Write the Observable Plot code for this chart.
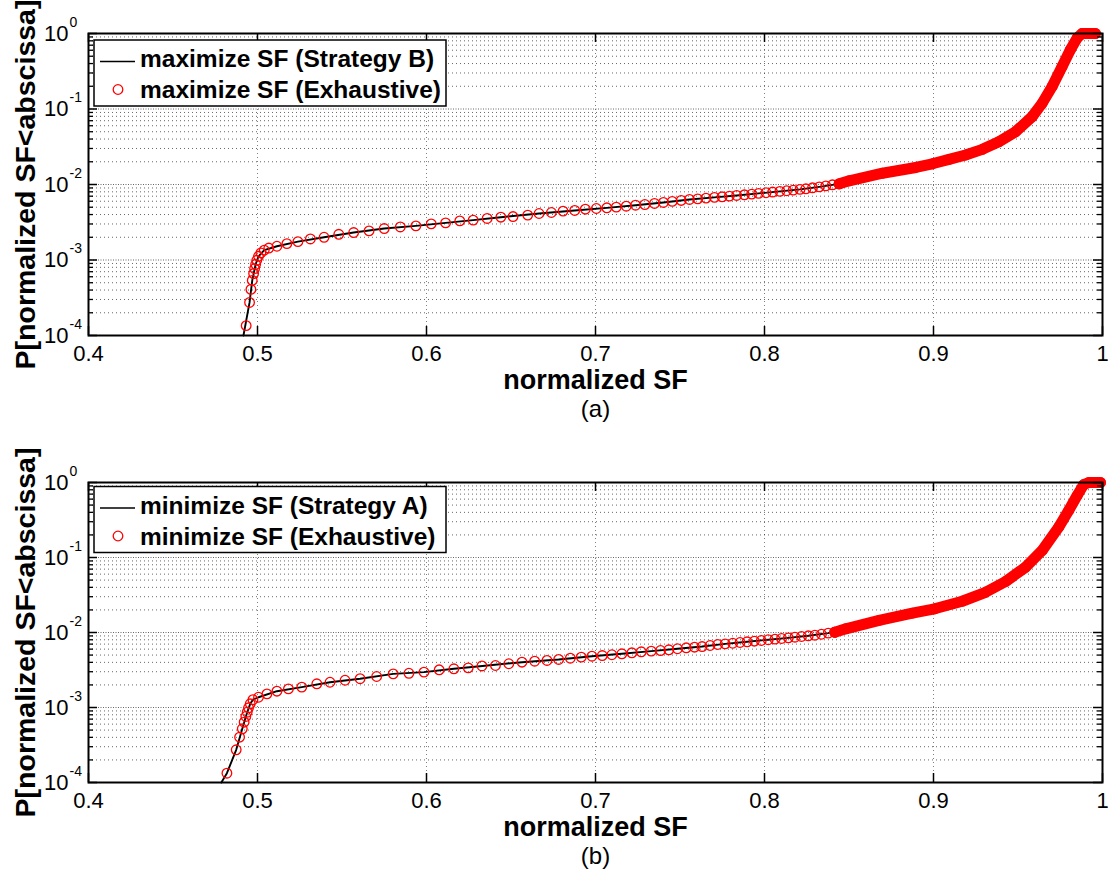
<!DOCTYPE html>
<html><head><meta charset="utf-8">
<script src="https://cdn.jsdelivr.net/npm/d3@7"></script>
<script src="https://cdn.jsdelivr.net/npm/@observablehq/plot@0.6"></script>
<style>
body{margin:0;background:#fff;}
#chart{width:1120px;height:879px;position:relative;}
#chart svg{display:block;}
</style>
</head><body><div id="chart"></div>
<script>
// ---------- axis ticks / labels ----------
const xTicks = [0.4, 0.5, 0.6, 0.7, 0.8, 0.9, 1];
const xTickLabels = ["0.4", "0.5", "0.6", "0.7", "0.8", "0.9", "1"];
const xGrid = [0.5, 0.6, 0.7, 0.8, 0.9];
const yDecades = [1e-4, 1e-3, 1e-2, 1e-1, 1];
const yExponents = ["-4", "-3", "-2", "-1", "0"];
const xLabel = "normalized SF";
const yLabel = "P[normalized SF<abscissa]";

// ---------- panel (a) ----------
const aTitle = "(a)";
const aLegend = ["maximize SF (Strategy B)", "maximize SF (Exhaustive)"];
const aLineX = [0.4917, 0.4953, 0.4969, 0.4989, 0.5006, 0.5040, 0.5115, 0.5239, 0.5394, 0.5569, 0.5750, 0.5937, 0.6113, 0.6276, 0.6440, 0.6666, 0.6877, 0.7067, 0.7237, 0.7402, 0.7556, 0.7704, 0.7835, 0.7965, 0.8091, 0.8210, 0.8324, 0.8442, 0.8698, 0.8993, 0.9289, 0.9486, 0.9643, 0.9761, 0.9850, 0.9879];
const aLineP = [1.00e-4, 2.74e-4, 5.37e-4, 8.77e-4, 1.12e-3, 1.35e-3, 1.52e-3, 1.75e-3, 2.00e-3, 2.31e-3, 2.61e-3, 2.83e-3, 3.10e-3, 3.37e-3, 3.69e-3, 4.13e-3, 4.53e-3, 4.91e-3, 5.32e-3, 5.78e-3, 6.34e-3, 6.75e-3, 7.16e-3, 7.62e-3, 8.11e-3, 8.61e-3, 9.31e-3, 1.02e-2, 1.41e-2, 1.88e-2, 2.92e-2, 5.01e-2, 0.119, 0.366, 0.871, 1];
const aExhX = [0.4933, 0.4953, 0.4961, 0.4969, 0.4977, 0.4983, 0.4989, 0.4996, 0.5006, 0.5020, 0.5040, 0.5067, 0.5115, 0.5174, 0.5239, 0.5313, 0.5394, 0.5481, 0.5569, 0.5660, 0.5750, 0.5845, 0.5937, 0.6028, 0.6113, 0.6197, 0.6276, 0.6359, 0.6440, 0.6512, 0.6599, 0.6666, 0.6739, 0.6808, 0.6877, 0.6940, 0.7005, 0.7067, 0.7123, 0.7182, 0.7237, 0.7292, 0.7349, 0.7402, 0.7454, 0.7507, 0.7556, 0.7605, 0.7654, 0.7704, 0.7749, 0.7792, 0.7835, 0.7881, 0.7924, 0.7965, 0.8009, 0.8048, 0.8091, 0.8131, 0.8170, 0.8210, 0.8245, 0.8284, 0.8324, 0.8363, 0.8402, 0.8442];
const aExhP = [1.35e-4, 2.74e-4, 4.08e-4, 5.37e-4, 6.61e-4, 7.69e-4, 8.77e-4, 9.91e-4, 1.12e-3, 1.24e-3, 1.35e-3, 1.44e-3, 1.52e-3, 1.65e-3, 1.75e-3, 1.90e-3, 2.00e-3, 2.19e-3, 2.31e-3, 2.43e-3, 2.61e-3, 2.74e-3, 2.83e-3, 3.01e-3, 3.10e-3, 3.30e-3, 3.37e-3, 3.55e-3, 3.69e-3, 3.76e-3, 3.93e-3, 4.13e-3, 4.26e-3, 4.44e-3, 4.53e-3, 4.71e-3, 4.81e-3, 4.91e-3, 5.01e-3, 5.16e-3, 5.32e-3, 5.43e-3, 5.61e-3, 5.78e-3, 5.97e-3, 6.15e-3, 6.34e-3, 6.46e-3, 6.59e-3, 6.75e-3, 6.87e-3, 7.02e-3, 7.16e-3, 7.30e-3, 7.46e-3, 7.62e-3, 7.78e-3, 7.94e-3, 8.11e-3, 8.26e-3, 8.43e-3, 8.61e-3, 8.77e-3, 9.04e-3, 9.31e-3, 9.59e-3, 9.91e-3, 1.02e-2];
// dense part of the exhaustive markers (overlapping into a solid band)
const aBandX = [0.8442, 0.8501, 0.8698, 0.8895, 0.8993, 0.9092, 0.9190, 0.9289, 0.9387, 0.9486, 0.9584, 0.9643, 0.9702, 0.9761, 0.9810, 0.9850, 0.9879, 0.9958];
const aBandP = [1.02e-2, 1.12e-2, 1.41e-2, 1.68e-2, 1.88e-2, 2.15e-2, 2.46e-2, 2.92e-2, 3.69e-2, 5.01e-2, 7.93e-2, 0.119, 0.199, 0.366, 0.610, 0.871, 1, 1];

// ---------- panel (b) ----------
const bTitle = "(b)";
const bLegend = ["minimize SF (Strategy A)", "minimize SF (Exhaustive)"];
const bLineX = [0.4786, 0.4819, 0.4874, 0.4910, 0.4939, 0.4957, 0.4973, 0.5006, 0.5115, 0.5262, 0.5429, 0.5607, 0.5803, 0.5985, 0.6162, 0.6331, 0.6565, 0.6782, 0.6979, 0.7156, 0.7330, 0.7485, 0.7631, 0.7767, 0.7897, 0.8022, 0.8141, 0.8259, 0.8377, 0.8481, 0.8678, 0.9007, 0.9308, 0.9545, 0.9741, 0.9889, 0.9919];
const bLineP = [1.00e-4, 1.33e-4, 2.73e-4, 5.20e-4, 8.65e-4, 1.12e-3, 1.27e-3, 1.37e-3, 1.65e-3, 1.87e-3, 2.17e-3, 2.42e-3, 2.81e-3, 2.96e-3, 3.28e-3, 3.58e-3, 4.02e-3, 4.37e-3, 4.83e-3, 5.20e-3, 5.64e-3, 6.07e-3, 6.50e-3, 7.06e-3, 7.52e-3, 8.00e-3, 8.49e-3, 9.04e-3, 9.80e-3, 1.12e-2, 1.45e-2, 2.07e-2, 3.44e-2, 7.43e-2, 0.254, 0.940, 1];
const bExhX = [0.4819, 0.4874, 0.4894, 0.4910, 0.4921, 0.4931, 0.4939, 0.4947, 0.4957, 0.4973, 0.5006, 0.5056, 0.5115, 0.5183, 0.5262, 0.5351, 0.5429, 0.5518, 0.5607, 0.5705, 0.5803, 0.5896, 0.5985, 0.6075, 0.6162, 0.6247, 0.6328, 0.6408, 0.6487, 0.6565, 0.6640, 0.6713, 0.6782, 0.6851, 0.6916, 0.6979, 0.7040, 0.7097, 0.7156, 0.7215, 0.7271, 0.7330, 0.7385, 0.7434, 0.7485, 0.7537, 0.7586, 0.7631, 0.7678, 0.7723, 0.7767, 0.7812, 0.7855, 0.7897, 0.7940, 0.7981, 0.8022, 0.8062, 0.8101, 0.8141, 0.8180, 0.8219, 0.8259, 0.8298, 0.8337, 0.8377, 0.8416];
const bExhP = [1.33e-4, 2.73e-4, 4.02e-4, 5.20e-4, 6.37e-4, 7.59e-4, 8.65e-4, 9.91e-4, 1.12e-3, 1.27e-3, 1.37e-3, 1.52e-3, 1.65e-3, 1.77e-3, 1.87e-3, 2.07e-3, 2.17e-3, 2.31e-3, 2.42e-3, 2.59e-3, 2.81e-3, 2.86e-3, 2.96e-3, 3.18e-3, 3.28e-3, 3.38e-3, 3.58e-3, 3.63e-3, 3.83e-3, 4.02e-3, 4.14e-3, 4.24e-3, 4.37e-3, 4.54e-3, 4.69e-3, 4.83e-3, 4.93e-3, 5.05e-3, 5.20e-3, 5.36e-3, 5.53e-3, 5.64e-3, 5.75e-3, 5.88e-3, 6.07e-3, 6.25e-3, 6.37e-3, 6.50e-3, 6.71e-3, 6.92e-3, 7.06e-3, 7.19e-3, 7.36e-3, 7.52e-3, 7.66e-3, 7.82e-3, 8.00e-3, 8.15e-3, 8.32e-3, 8.49e-3, 8.65e-3, 8.85e-3, 9.04e-3, 9.20e-3, 9.48e-3, 9.80e-3, 1.01e-2];
const bBandX = [0.8416, 0.8481, 0.8678, 0.8875, 0.9007, 0.9170, 0.9308, 0.9427, 0.9545, 0.9643, 0.9741, 0.9800, 0.9850, 0.9889, 0.9919, 0.9988];
const bBandP = [1.01e-2, 1.12e-2, 1.45e-2, 1.81e-2, 2.07e-2, 2.61e-2, 3.44e-2, 4.79e-2, 7.43e-2, 0.124, 0.254, 0.424, 0.671, 0.940, 1, 1];

// ---------- drawing ----------
const FONT = "'Liberation Sans', Arial, Helvetica, sans-serif";
const RED = "#ff0000";
const zip = (X, Y) => X.map((x, i) => ({x, y: Y[i]}));

// log minor tick positions (scale ticks, not data)
const yMinor = [];
for (let i = 0; i < yDecades.length - 1; i++) {
  for (let m = 2; m <= 9; m++) yMinor.push(yDecades[i] * m);
}

function panel({height, marginTop, marginBottom, lineX, lineP, exhX, exhP, bandX, bandP, title, legend, legendTop}) {
  const width = 1120, marginLeft = 88, marginRight = 18;
  const W = width - marginLeft - marginRight;
  const H = height - marginTop - marginBottom;
  const line = zip(lineX, lineP), exh = zip(exhX, exhP), band = zip(bandX, bandP);
  const svg = Plot.plot({
    width, height, marginLeft, marginRight, marginTop, marginBottom,
    style: {fontFamily: FONT, fontSize: "22px", color: "#000", background: "#fff", overflow: "visible"},
    x: {domain: [0.4, 1], axis: null},
    y: {type: "log", domain: [1e-4, 1], axis: null},
    marks: [
      // dotted grid
      Plot.ruleY(yMinor, {y: d => d, stroke: "#000", strokeOpacity: 0.6, strokeWidth: 1, strokeDasharray: "1,3"}),
      Plot.ruleY(yDecades, {y: d => d, stroke: "#000", strokeOpacity: 0.6, strokeWidth: 1, strokeDasharray: "1,1.5"}),
      Plot.ruleX(xGrid, {x: d => d, stroke: "#000", strokeOpacity: 0.5, strokeWidth: 1, strokeDasharray: "1,3"}),
      // data
      Plot.line(line, {x: "x", y: "y", stroke: "#000", strokeWidth: 1.9}),
      Plot.dot(exh, {x: "x", y: "y", r: 4.8, stroke: RED, strokeWidth: 1.3, fill: "none"}),
      Plot.dot(band, {x: "x", y: "y", r: 4.8, stroke: RED, strokeWidth: 1.3, fill: "none"}),
      Plot.line(band, {x: "x", y: "y", stroke: RED, strokeWidth: 11, strokeLinecap: "round", strokeLinejoin: "round"}),
      // inward ticks (box on all sides)
      Plot.tickX(xTicks, {x: d => d, insetTop: H - 9, stroke: "#000", strokeWidth: 1.5}),
      Plot.tickX(xTicks, {x: d => d, insetBottom: H - 9, stroke: "#000", strokeWidth: 1.5}),
      Plot.tickY(yDecades, {y: d => d, insetRight: W - 9, stroke: "#000", strokeWidth: 1.5}),
      Plot.tickY(yDecades, {y: d => d, insetLeft: W - 9, stroke: "#000", strokeWidth: 1.5}),
      Plot.tickY(yMinor, {y: d => d, insetRight: W - 5, stroke: "#000", strokeWidth: 1.3}),
      Plot.tickY(yMinor, {y: d => d, insetLeft: W - 5, stroke: "#000", strokeWidth: 1.3}),
      Plot.frame({stroke: "#000", strokeWidth: 2}),
      // tick labels
      Plot.axisX(xTicks, {tickSize: 0, tickPadding: 10, fontSize: 22, label: null,
        tickFormat: d => xTickLabels[xTicks.indexOf(d)]}),
      Plot.axisY(yDecades, {tickSize: 0, tickPadding: 20, fontSize: 22, label: null, tickFormat: () => "10"}),
      Plot.text(yDecades, {y: d => d, text: (d, i) => yExponents[i], frameAnchor: "left",
        textAnchor: "start", dx: -19, dy: -11, fontSize: 14}),
      // axis titles and panel caption
      Plot.text([xLabel], {text: d => d, frameAnchor: "bottom", textAnchor: "middle", dy: 53, lineAnchor: "bottom",
        fontSize: 27, fontWeight: "bold"}),
      Plot.text([title], {text: d => d, frameAnchor: "bottom", textAnchor: "middle", dy: 81, lineAnchor: "bottom", fontSize: 24}),
      Plot.text([yLabel], {text: d => d, frameAnchor: "left", textAnchor: "middle", rotate: -90, dx: -54, lineAnchor: "bottom",
        fontSize: 28.5, fontWeight: "bold"})
    ]
  });

  // legend box (top-left, inside the axes)
  const g = d3.select(svg).append("g").attr("font-family", FONT).attr("text-anchor", "start");
  const lx = 94, ly = legendTop, lw = 352, lh = 66;
  g.append("rect").attr("x", lx).attr("y", ly).attr("width", lw).attr("height", lh)
    .attr("fill", "#fff").attr("stroke", "#000").attr("stroke-width", 1.5);
  g.append("line").attr("x1", lx + 6).attr("x2", lx + 41).attr("y1", ly + 21.5).attr("y2", ly + 21.5)
    .attr("stroke", "#000").attr("stroke-width", 1.6);
  g.append("circle").attr("cx", lx + 24).attr("cy", ly + 49.5).attr("r", 4.8)
    .attr("fill", "none").attr("stroke", RED).attr("stroke-width", 1.3);
  g.append("text").attr("x", lx + 46).attr("y", ly + 27).attr("font-size", 24.5).attr("font-weight", "bold")
    .attr("text-anchor", "start").text(legend[0]);
  g.append("text").attr("x", lx + 46).attr("y", ly + 58).attr("font-size", 24.5).attr("font-weight", "bold")
    .attr("text-anchor", "start").text(legend[1]);
  return svg;
}

const chart = document.getElementById("chart");
chart.appendChild(panel({height: 440, marginTop: 33, marginBottom: 105,
  lineX: aLineX, lineP: aLineP, exhX: aExhX, exhP: aExhP, bandX: aBandX, bandP: aBandP,
  title: aTitle, legend: aLegend, legendTop: 40}));
chart.appendChild(panel({height: 439, marginTop: 42, marginBottom: 97,
  lineX: bLineX, lineP: bLineP, exhX: bExhX, exhP: bExhP, bandX: bBandX, bandP: bBandP,
  title: bTitle, legend: bLegend, legendTop: 46.5}));
</script>
</body></html>
